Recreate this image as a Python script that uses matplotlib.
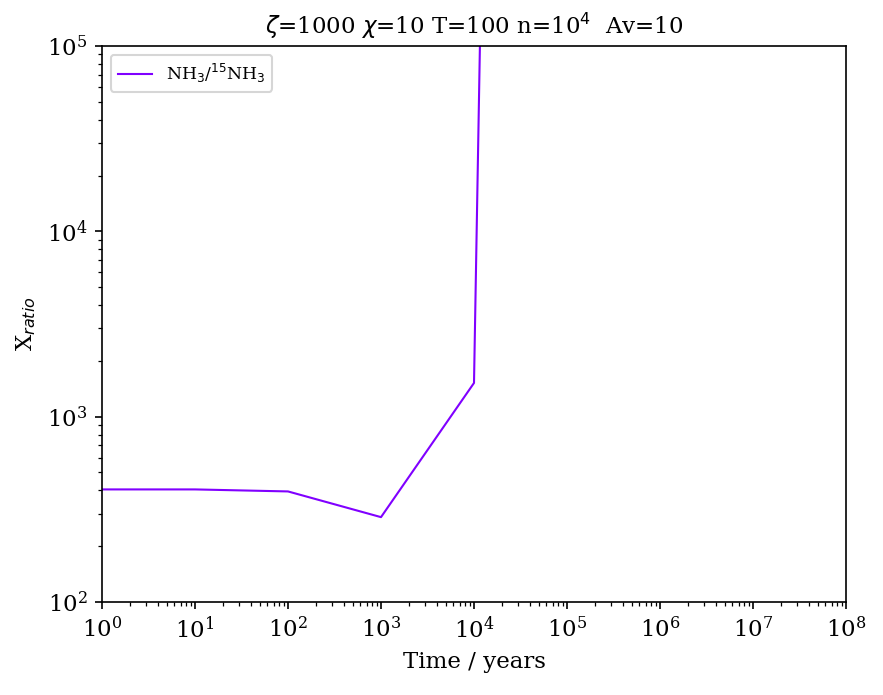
import matplotlib
matplotlib.use("Agg")
import matplotlib.pyplot as plt

time_years = [1, 10, 100, 1000, 1.0e4, 1.25e4]
nh3_ratio = [405, 405, 395, 287, 1520, 9.0e5]
series_label = r"NH$_3$/$^{15}$NH$_3$"
title = r"$\zeta$=1000 $\chi$=10 T=100 n=10$^4$  Av=10"

plt.rcParams["font.family"] = "DejaVu Serif"
plt.rcParams["font.size"] = 11

W, H, DPI = 883, 695, 150
fig = plt.figure(figsize=(W / DPI, H / DPI), dpi=DPI)
ax = fig.add_axes([102 / W, (H - 602) / H, (846 - 102) / W, (602 - 46) / H])

ax.plot(time_years, nh3_ratio, color=(0.5, 0.0, 1.0), lw=1.0, label=series_label)
ax.set_xscale("log")
ax.set_yscale("log")
ax.set_xlim(1, 1e8)
ax.set_ylim(1e2, 1e5)
ax.set_xlabel("Time / years")
ax.set_ylabel(r"X$_{ratio}$")
ax.set_title(title, fontsize=11)
ax.legend(loc="upper left", fontsize=8.3)

fig.savefig("out.png", dpi=DPI)
